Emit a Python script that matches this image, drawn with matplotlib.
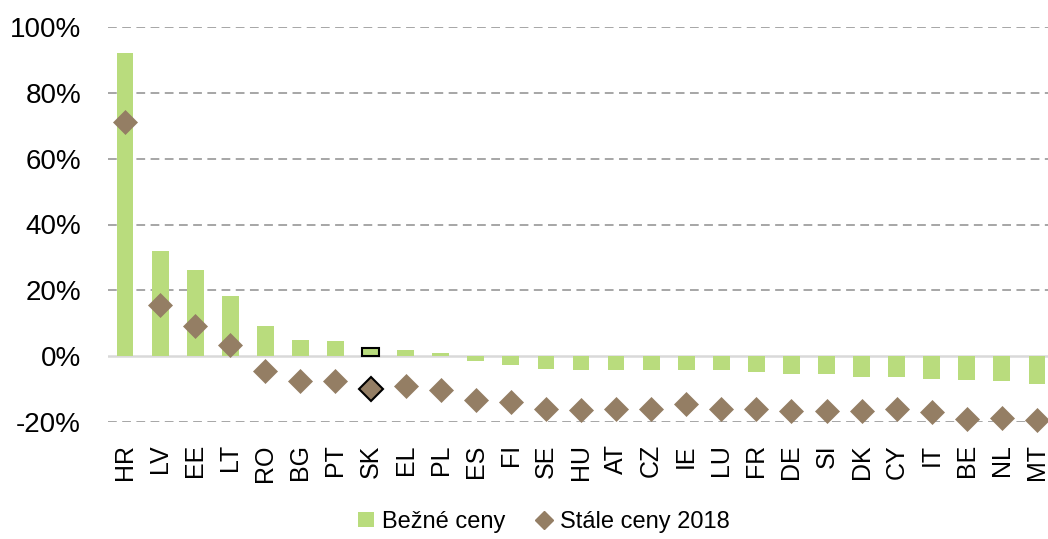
import matplotlib
matplotlib.use("Agg")
import matplotlib.pyplot as plt
from matplotlib.lines import Line2D
from matplotlib.patches import Patch
import numpy as np

plt.rcParams['font.family'] = ['Liberation Sans', 'DejaVu Sans']

countries = ["HR", "LV", "EE", "LT", "RO", "BG", "PT", "SK", "EL", "PL", "ES", "FI", "SE",
             "HU", "AT", "CZ", "IE", "LU", "FR", "DE", "SI", "DK", "CY", "IT", "BE", "NL", "MT"]
current_prices = [92.1, 31.9, 26.1, 18.2, 9.1, 4.9, 4.6, 2.4, 1.8, 1.0, -1.5, -2.6, -3.8,
                  -4.1, -4.1, -4.1, -4.3, -4.3, -4.9, -5.3, -5.5, -6.3, -6.3, -6.9, -7.3, -7.5, -8.6]
constant_prices = [71.1, 15.5, 9.1, 3.3, -4.6, -7.6, -7.6, -10.0, -9.1, -10.3, -13.4, -13.8, -15.9,
                   -16.4, -16.2, -16.1, -14.6, -16.1, -16.2, -16.7, -16.6, -16.6, -16.1, -17.1, -19.2, -18.7, -19.5]
yticks = [-20, 0, 20, 40, 60, 80, 100]
highlight = "SK"

bar_color = "#B9DC7D"
dia_color = "#947E64"

fig = plt.figure(figsize=(10.48, 5.39), dpi=100)
ax = fig.add_axes([107.5 / 1048, 1 - 422 / 539, 947 / 1048, 395 / 539])

x = np.arange(len(countries))
edgecolors = ["black" if c == highlight else "none" for c in countries]
linewidths = [1.5 if c == highlight else 0 for c in countries]
ax.bar(x, current_prices, width=0.48, color=bar_color, edgecolor=edgecolors,
       linewidth=linewidths, zorder=2)

for xi, yi, c in zip(x, constant_prices, countries):
    ax.plot(xi, yi, marker="D", markersize=12.5, color=dia_color,
            markeredgecolor="black" if c == highlight else dia_color,
            markeredgewidth=1.5 if c == highlight else 0.5, linestyle="none",
            zorder=3, clip_on=False)

for t in yticks:
    if t != 0:
        ax.axhline(t, color="#A6A6A6", linewidth=1.4, linestyle=(0, (4.5, 2.8)), zorder=1)
ax.axhline(0, color="#D9D9D9", linewidth=1.8, zorder=1.5)

ax.set_xlim(-0.5, len(countries) - 0.5)
ax.set_ylim(-20, 100)
ax.set_yticks(yticks)
ax.set_yticklabels([f"{t}%" for t in yticks], fontsize=20)
ax.set_xticks(x)
ax.set_xticklabels(countries, rotation=90, fontsize=18)
ax.tick_params(axis="y", length=0, pad=19)
ax.tick_params(axis="x", length=0, pad=16)
for s in ax.spines.values():
    s.set_visible(False)

handles = [Patch(facecolor=bar_color, edgecolor="none", label="Bežné ceny"),
           Line2D([], [], marker="D", color=dia_color, markersize=9, linestyle="none",
                  label="Stále ceny 2018")]
fig.legend(handles=handles, loc="center", bbox_to_anchor=(0.519, 0.032), ncol=2,
           frameon=False, fontsize=17, handlelength=0.65, handleheight=0.65,
           columnspacing=1.3, handletextpad=0.35)

fig.savefig("out.png", dpi=100)
